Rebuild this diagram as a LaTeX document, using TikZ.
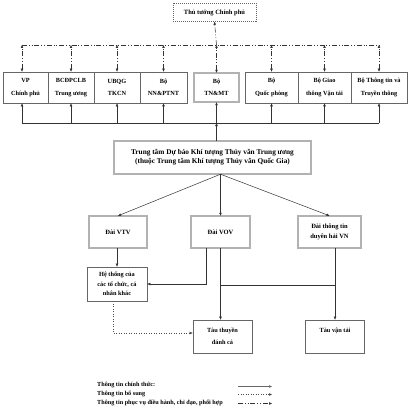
\documentclass[tikz,border=0pt]{standalone}
\usepackage{fontspec}
\setmainfont{Liberation Serif}
\usetikzlibrary{arrows.meta,calc}
\begin{document}
\begin{tikzpicture}[x=1pt,y=-1pt,
  tip/.style={-{Triangle[length=3pt,width=2.4pt]}},
  btip/.style={{Triangle[length=3pt,width=2.4pt]}-{Triangle[length=3pt,width=2.4pt]}},
  ln/.style={draw=black!80, line width=0.5pt},
  dd/.style={draw=black!80, line width=0.55pt, dash pattern=on 5pt off 1.8pt on 1pt off 1.8pt on 1pt off 1.8pt},
  dots/.style={draw=black!70, line width=0.55pt, dash pattern=on 1pt off 1.5pt},
  boxa/.style={draw=black!60, line width=0.6pt, inner sep=0pt, align=center, fill=white,
    font=\fontsize{6.3}{12.5}\selectfont\bfseries},
  dbox/.style={draw=black!70, line width=0.45pt, double=black!30, double distance=1.3pt,
    inner sep=0pt, align=center, fill=white},
  lgtext/.style={anchor=west, inner sep=0pt, font=\fontsize{6.2}{7}\selectfont\bfseries}
]
\useasboundingbox (0,0) rectangle (409,420);

% top
\node[draw=black!60, line width=0.5pt, dash pattern=on 1pt off 1pt, inner sep=0pt,
  minimum width=83pt, minimum height=18pt, font=\fontsize{6.5}{8}\selectfont\bfseries]
  (thu) at (214.5,12.5) {Thủ tướng Chính phủ};

% row 1
\node[boxa, minimum width=45pt, minimum height=31pt] (vp) at (25.5,87.5) {VP\\Chính phủ};
\node[boxa, minimum width=46pt, minimum height=31pt] (bc) at (71,87.5) {BCĐPCLB\\Trung ương};
\node[boxa, minimum width=46pt, minimum height=31pt] (ub) at (117,87.5) {UBQG\\TKCN};
\node[boxa, minimum width=47pt, minimum height=31pt] (nn) at (163.5,87.5) {Bộ\\NN\&PTNT};
\node[dbox, minimum width=45pt, minimum height=29pt, font=\fontsize{6.3}{12.5}\selectfont\bfseries]
  (tn) at (216.5,87.5) {Bộ\\TN\&MT};
\node[boxa, minimum width=53pt, minimum height=31pt] (qp) at (271.5,87.5) {Bộ\\Quốc phòng};
\node[boxa, minimum width=53pt, minimum height=31pt] (gt) at (324.5,87.5) {Bộ Giao\\thông Vận tải};
\node[boxa, minimum width=56pt, minimum height=31pt] (ttt) at (379,87.5) {Bộ Thông tin và\\Truyền thông};

% centre
\node[dbox, minimum width=197pt, minimum height=33pt, font=\fontsize{7.3}{9}\selectfont\bfseries]
  (ctr) at (212.5,157.5) {Trung tâm Dự báo Khí tượng Thủy văn Trung ương\\(thuộc Trung tâm Khí tượng Thủy văn Quốc Gia)};

% stations
\node[dbox, minimum width=58pt, minimum height=32pt, font=\fontsize{6.5}{10}\selectfont\bfseries]
  (vtv) at (118,232) {Đài VTV};
\node[dbox, minimum width=59pt, minimum height=32pt, font=\fontsize{6.5}{10}\selectfont\bfseries]
  (vov) at (220.5,232) {Đài VOV};
\node[dbox, minimum width=63pt, minimum height=32pt, font=\fontsize{6.5}{10}\selectfont\bfseries]
  (ttdh) at (329.5,232) {Đài thông tin\\duyên hải VN};

% receivers
\node[boxa, minimum width=60pt, minimum height=34pt, font=\fontsize{6.3}{9.5}\selectfont\bfseries]
  (ht) at (117,284) {Hệ thống của\\các tổ chức, cá\\nhân khác};
\node[boxa, minimum width=59pt, minimum height=33pt, font=\fontsize{6.3}{12}\selectfont\bfseries]
  (tau) at (222.5,336.5) {Tàu thuyền\\đánh cá};
\node[boxa, minimum width=59pt, minimum height=33pt, font=\fontsize{6.3}{12}\selectfont\bfseries]
  (tvt) at (335,336.5) {Tàu vận tải\\\phantom{đánh cá}};

% helper levels
\coordinate (ddl) at (0,45);
\coordinate (sol) at (0,123);
\coordinate (hl) at (0,285);
\coordinate (vpc) at (22,0);
\coordinate (vovl) at (206,0);
\coordinate (htx) at (113,0);
\coordinate (tauy) at (0,333);

% dash-dot coordination lines
\draw[dd] (vpc |- ddl) -- (ttt.north |- ddl);
\draw[dd, btip] (vpc |- vp.north) -- (vpc |- ddl);
\foreach \n in {bc,ub,nn,qp,gt,ttt}
  \draw[dd, btip] (\n.north) -- (\n.north |- ddl);
\draw[dd, btip] (tn.north) -- (tn.north |- ddl);
\draw[dd, tip] (tn.north |- ddl) -- (thu.south);

% solid official lines
\draw[ln] (vpc |- sol) -- (ttt.south |- sol);
\draw[ln, tip] (vpc |- sol) -- (vpc |- vp.south);
\foreach \n in {bc,ub,nn,qp,gt,ttt}
  \draw[ln, tip] (\n.south |- sol) -- (\n.south);
\draw[ln, tip] (ctr.north -| tn.south) -- (tn.south |- sol);
\draw[ln, tip] (tn.south |- sol) -- (tn.south);

% centre to stations
\draw[ln, tip] (ctr.south -| vov.north) -- (vtv.north);
\draw[ln, tip] (ctr.south -| vov.north) -- (vov.north);
\draw[ln, tip] (ctr.south -| vov.north) -- (ttdh.north);

% stations to receivers
\draw[ln, tip] (vtv.south -| ht.north) -- (ht.north);
\draw[ln, tip] (vovl |- vov.south) |- (ht.east);
\draw[ln, tip] (vov.south) -- (vov.south |- tau.north);
\draw[ln] (vov.south |- hl) -- (tvt.north |- hl);
\draw[ln, tip] (ttdh.south -| tvt.north) -- (tvt.north);
\draw[dots, tip] (htx |- ht.south) |- (tau.west |- tauy);

% legend
\node[lgtext] (lg1) at (97,385) {Thông tin chính thức:};
\node[lgtext] (lg2) at (97,393.5) {Thông tin bổ sung};
\node[lgtext] (lg3) at (97,402.5) {Thông tin phục vụ điều hành, chỉ đạo, phối hợp};
\coordinate (a1) at (238,386.5); \coordinate (b1) at (272,386.5);
\coordinate (a2) at (238,394.5); \coordinate (b2) at (272,394.5);
\coordinate (a3) at (238,403.5); \coordinate (b3) at (272,403.5);
\draw[ln, draw=black!60, tip] (a1) -- (b1);
\draw[dots, tip] (a2) -- (b2);
\draw[dd, tip] (a3) -- (b3);
\end{tikzpicture}
\end{document}
